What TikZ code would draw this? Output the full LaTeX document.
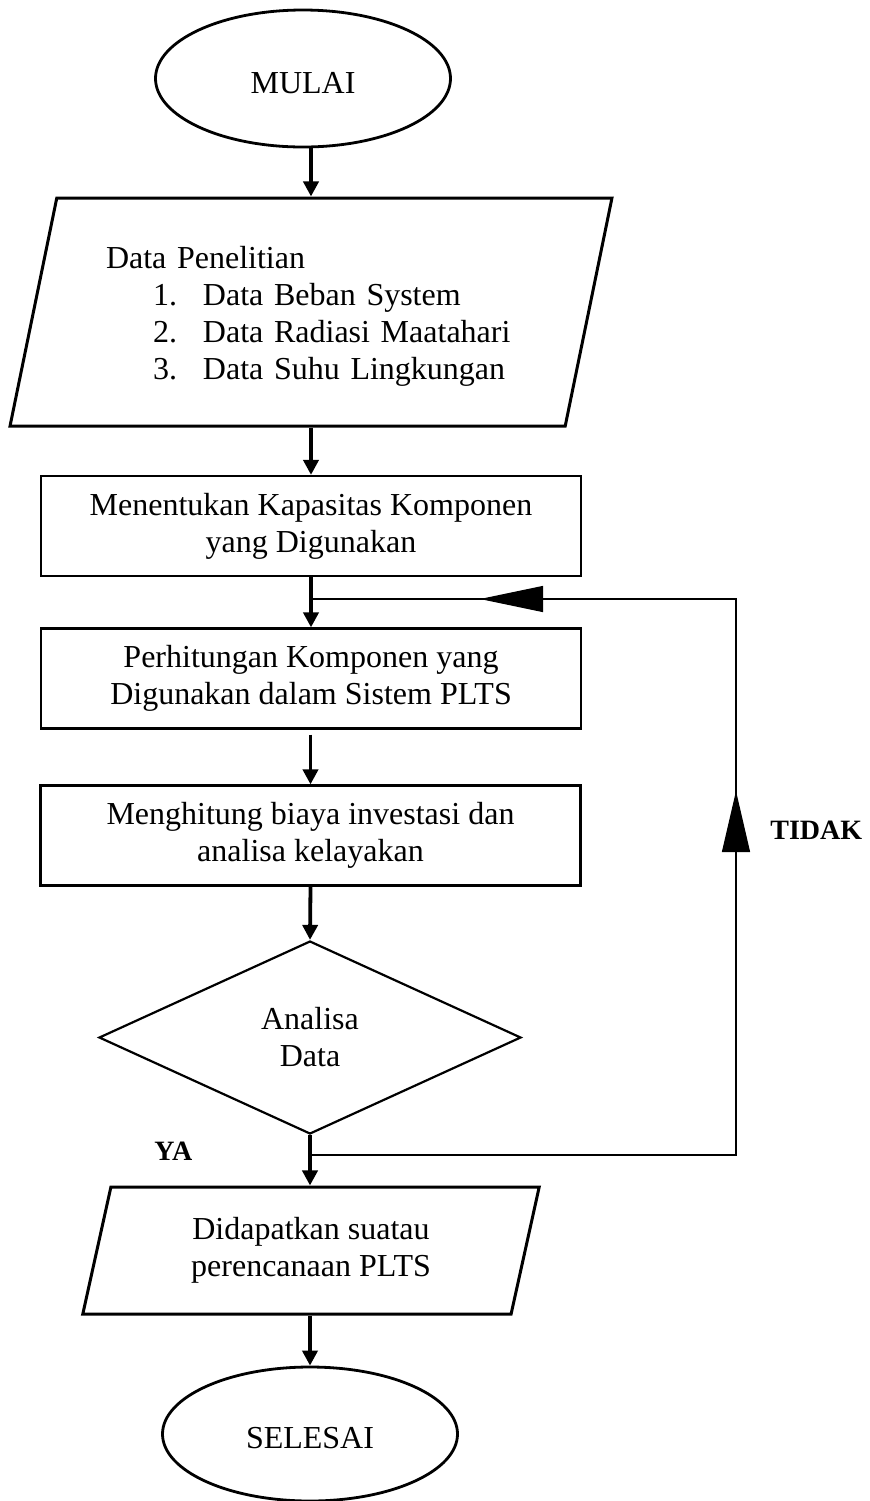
\documentclass[tikz,border=0pt]{standalone}
\usepackage{fontspec}
\setmainfont{Liberation Serif}
\usetikzlibrary{shapes.geometric, arrows.meta, decorations.markings}

\begin{document}
\begin{tikzpicture}[x=0.5pt, y=-0.5pt,
  every node/.style={font=\fontsize{16}{18.5}\selectfont, execute at begin node={\rule{0pt}{15pt}}},
  terminal/.style={draw, ellipse, line width=1.4pt, minimum width=147.5pt, inner sep=0pt},
  iobox/.style={draw, trapezium, trapezium left angle=75.7, trapezium right angle=104.3, trapezium stretches=true, line width=1.5pt, inner sep=0pt},
  procbox/.style={draw, rectangle, line width=1.1pt, minimum width=270pt, minimum height=50pt, align=center},
  decision/.style={draw, diamond, line width=1.1pt, minimum width=211pt, minimum height=96.5pt, inner sep=0pt, align=center},
  flow/.style={line width=1.9pt, -{Triangle[length=7.5pt, width=7.5pt]}},
  loopback/.style={line width=0.6pt},
  answer/.style={font=\fontsize{14}{16}\selectfont\bfseries, anchor=base west, inner sep=0pt}]
      \useasboundingbox (0,0) rectangle (870,1501);

      % Shapes
      \node[terminal, minimum height=68.5pt] (mulai) at (303,78.5) {MULAI};
      \node[iobox, minimum width=301pt, minimum height=114pt, text width=205pt, align=left] (data) at (311,312) {Data Penelitian\\
        \hspace*{23.5pt}\makebox[25pt][l]{1.}Data Beban System\\
        \hspace*{23.5pt}\makebox[25pt][l]{2.}Data Radiasi Maatahari\\
        \hspace*{23.5pt}\makebox[25pt][l]{3.}Data Suhu Lingkungan};
      \node[procbox] (kapasitas) at (311,526) {Menentukan Kapasitas Komponen\\yang Digunakan};
      \node[procbox] (hitung) at (311,678.5) {Perhitungan Komponen yang\\Digunakan dalam Sistem PLTS};
      \node[procbox] (biaya) at (310.5,835.5) {Menghitung biaya investasi dan\\analisa kelayakan};
      \node[decision] (analisa) at (310,1037.5) {Analisa\\Data};
      \node[iobox, minimum width=228.5pt, minimum height=63.5pt, align=center] (hasil) at (311,1250.5) {Didapatkan suatau\\perencanaan PLTS};
      \node[terminal, minimum height=67pt] (selesai) at (310,1434) {SELESAI};

      % Loop points
      \coordinate (ya) at (310,1155);
      \coordinate (kanan) at (736,1155);
      \coordinate (atas) at (736,599);
      \coordinate (masuk) at (311,599);

      % Flow
      \draw[flow] (data.center |- mulai.south) -- (data.center |- data.north);
      \draw[flow] (kapasitas.north |- data.south) -- (kapasitas.north);
      \draw[flow] (kapasitas.south) -- (hitung.north);
      \draw[flow, shorten <=2.5pt] (biaya.north |- hitung.south) -- (biaya.north);
      \draw[flow] (biaya.south) -- (analisa.north);
      \draw[flow] (analisa.south) -- (analisa.south |- hasil.north);
      \draw[flow] (selesai.north |- hasil.south) -- (selesai.north);

      % Feedback
      \draw[loopback, postaction={decorate}, decoration={markings,
          mark=at position 395pt with {\arrow{Triangle[length=30.5pt, width=14pt]}},
          mark=at position 619pt with {\arrow{Triangle[length=31.5pt, width=13pt]}}}]
        (ya) -- (kanan) -- (atas) -- (masuk);

      % Labels
      \node[answer] (tidak) at (770,839) {TIDAK};
      \node[answer] (yalabel) at (154,1160) {YA};
\end{tikzpicture}
\end{document}
